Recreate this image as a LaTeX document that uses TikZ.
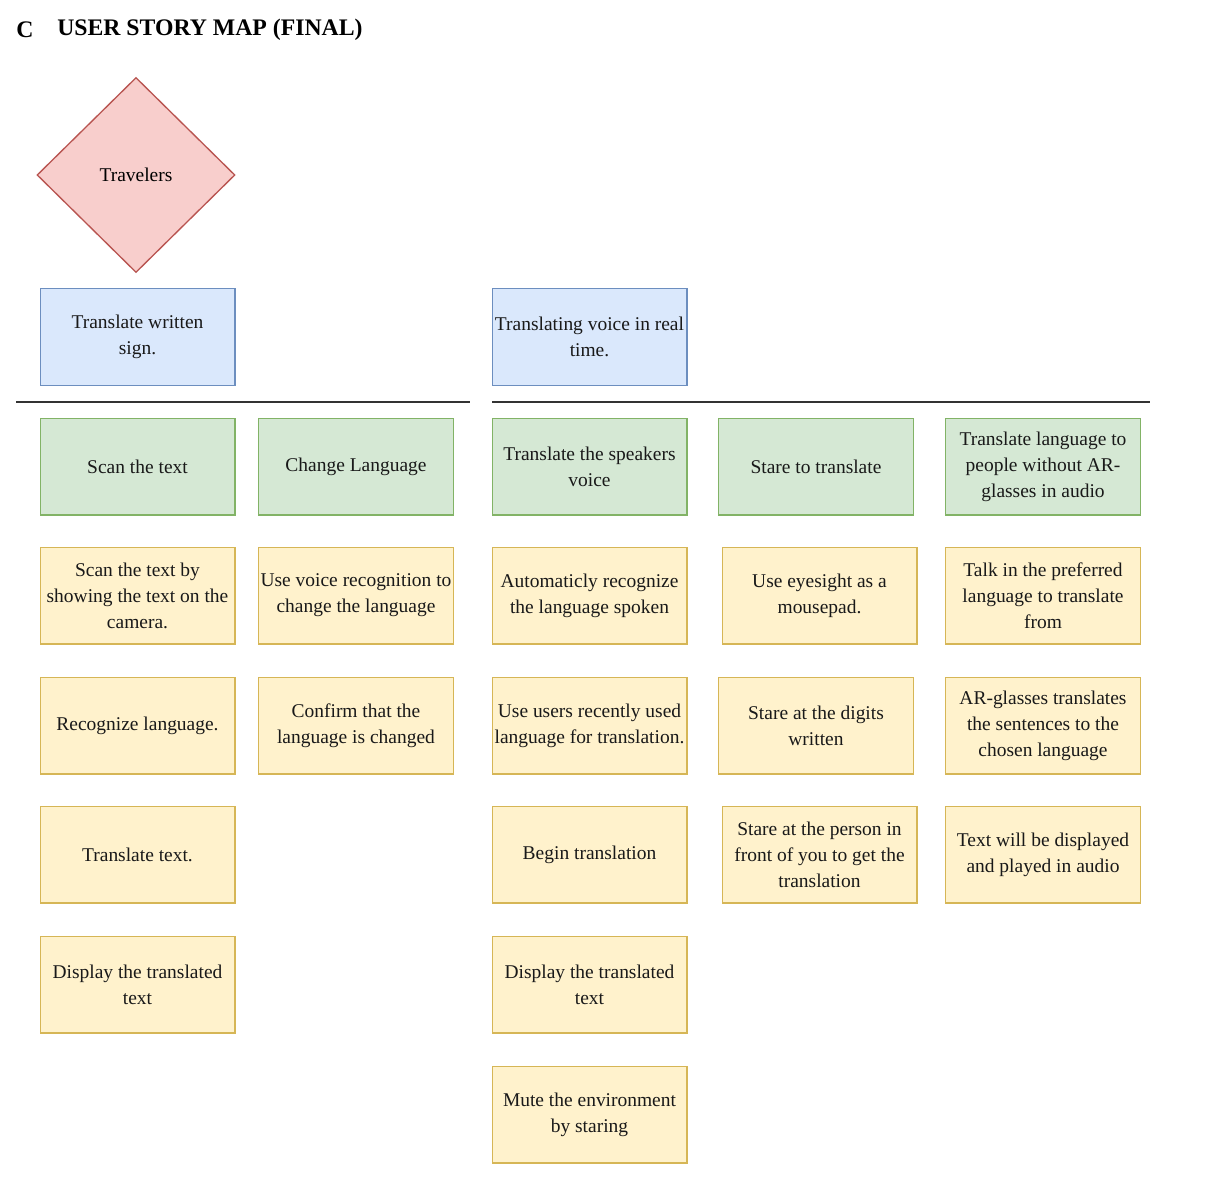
\documentclass[tikz,border=0pt]{standalone}
\usepackage{fontspec}
\setmainfont{Liberation Serif}
\usetikzlibrary{shapes.geometric}
\definecolor{pinkfill}{HTML}{F8CECC}
\definecolor{pinkline}{HTML}{B85450}
\definecolor{bluefill}{HTML}{DAE8FC}
\definecolor{blueline}{HTML}{6C8EBF}
\definecolor{greenfill}{HTML}{D5E8D4}
\definecolor{greenline}{HTML}{82B366}
\definecolor{yelfill}{HTML}{FFF2CC}
\definecolor{yelline}{HTML}{D6B656}
\definecolor{rulecol}{HTML}{333333}
\tikzset{
  card/.style={rectangle, line width=1pt, minimum width=146pt, minimum height=72.5pt,
    inner sep=0pt, align=center, font=\fontsize{14.6}{19.5}\selectfont, text=black!90},
  bluebox/.style={card, fill=bluefill, draw=blueline},
  greenbox/.style={card, fill=greenfill, draw=greenline},
  yelbox/.style={card, fill=yelfill, draw=yelline},
  persona/.style={diamond, aspect=1, inner sep=0pt, minimum width=148.5pt, minimum height=146.25pt,
    fill=pinkfill, draw=pinkline, line width=1pt, font=\fontsize{14.6}{19.5}\selectfont},
  divider/.style={draw=rulecol, line width=1.4pt}
}
\begin{document}
\begin{tikzpicture}[x=0.75pt, y=-0.75pt]
\fill[white] (0,0) rectangle (1230,1184);
\useasboundingbox (0,0) rectangle (1230,1184);

% title
\node[anchor=west, font=\bfseries\fontsize{17.8}{20}\selectfont, inner sep=0pt] (tc) at (16,30) {C};
\node[anchor=west, font=\bfseries\fontsize{17.8}{20}\selectfont, inner sep=0pt] (title) at (57,30) {USER STORY MAP (FINAL)};

% persona
\node[persona] (trav) at (136,175) {Travelers};

% activities
\node[bluebox] (act1) at (137.5,337) {Translate written\\sign.};
\node[bluebox] (act2) at (589.5,337) {Translating voice in real\\time.};

% dividers
\coordinate (l1a) at (16,402);
\coordinate (l1b) at (470,402);
\coordinate (l2a) at (492,402);
\coordinate (l2b) at (1150,402);
\draw[divider] (l1a) -- (l1b);
\draw[divider] (l2a) -- (l2b);

% tasks
\node[greenbox] (t1) at (137.5,466.5) {Scan the text};
\node[greenbox] (t2) at (356,466.5) {Change Language};
\node[greenbox] (t3) at (589.5,466.5) {Translate the speakers\\voice};
\node[greenbox] (t4) at (816,466.5) {Stare to translate};
\node[greenbox] (t5) at (1043,466.5) {Translate language to\\people without AR-\\glasses in audio};

% row 2
\node[yelbox] (a2) at (137.5,595.5) {Scan the text by\\showing the text on the\\camera.};
\node[yelbox] (b2) at (356,595.5) {Use voice recognition to\\change the language};
\node[yelbox] (c2) at (589.5,595.5) {Automaticly recognize\\the language spoken};
\node[yelbox] (d2) at (819.5,595.5) {Use eyesight as a\\mousepad.};
\node[yelbox] (e2) at (1043,595.5) {Talk in the preferred\\language to translate\\from};

% row 3
\node[yelbox] (a3) at (137.5,725.5) {Recognize language.};
\node[yelbox] (b3) at (356,725.5) {Confirm that the\\language is changed};
\node[yelbox] (c3) at (589.5,725.5) {Use users recently used\\language for translation.};
\node[yelbox] (d3) at (816,725.5) {Stare at the digits\\written};
\node[yelbox] (e3) at (1043,725.5) {AR-glasses translates\\the sentences to the\\chosen language};

% row 4
\node[yelbox] (a4) at (137.5,854.5) {Translate text.};
\node[yelbox] (c4) at (589.5,854.5) {Begin translation};
\node[yelbox] (d4) at (819.5,854.5) {Stare at the person in\\front of you to get the\\translation};
\node[yelbox] (e4) at (1043,854.5) {Text will be displayed\\and played in audio};

% row 5
\node[yelbox] (a5) at (137.5,984.5) {Display the translated\\text};
\node[yelbox] (c5) at (589.5,984.5) {Display the translated\\text};

% row 6
\node[yelbox] (c6) at (589.5,1114.5) {Mute the environment\\by staring};
\end{tikzpicture}
\end{document}
